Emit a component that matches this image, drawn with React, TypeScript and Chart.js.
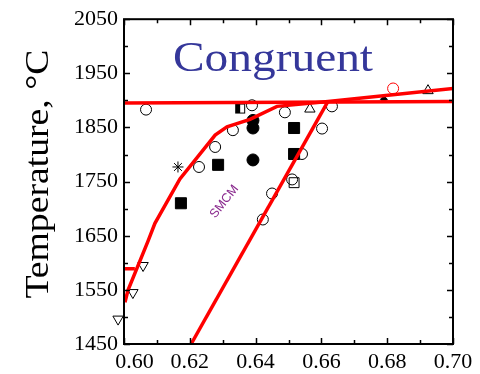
import React, { useEffect, useRef } from 'react';
import { Chart, registerables } from 'chart.js';

Chart.register(...registerables);

const X_MIN = 0.6;
const X_MAX = 0.7;
const Y_MIN = 1450;
const Y_MAX = 2050;

const xTickValues = [0.6, 0.62, 0.64, 0.66, 0.68, 0.7];
const xTickLabels = ['0.60', '0.62', '0.64', '0.66', '0.68', '0.70'];
const xMinorTicks = [0.61, 0.63, 0.65, 0.67, 0.69];
const yTickValues = [1450, 1550, 1650, 1750, 1850, 1950, 2050];
const yMinorTicks = [1500, 1600, 1700, 1800, 1900, 2000];

const yAxisTitle = 'Temperature, °C';
const regionLabel = 'Congruent';
const regionLabelPos = { x: 0.6149, y: 1954 };
const curveLabel = 'SMCM';
const curveLabelPos = { x: 0.6305, y: 1713 };

// red phase-boundary lines
const flatLine = [
  { x: 0.6, y: 1895 },
  { x: 0.7, y: 1898 },
];
const liquidus = [
  { x: 0.6003, y: 1527 },
  { x: 0.6012, y: 1549 },
  { x: 0.6073, y: 1640 },
  { x: 0.6094, y: 1673 },
  { x: 0.617, y: 1755 },
  { x: 0.6277, y: 1836 },
  { x: 0.6313, y: 1851 },
  { x: 0.6383, y: 1865 },
  { x: 0.6465, y: 1889 },
  { x: 0.662, y: 1898 },
  { x: 0.7, y: 1922 },
];
const shortLine = [
  { x: 0.6, y: 1589 },
  { x: 0.6033, y: 1589 },
];
const solidus = [
  { x: 0.6204, y: 1450 },
  { x: 0.662, y: 1898 },
];

// experimental markers
const openCircles = [
  { x: 0.6067, y: 1883 },
  { x: 0.6228, y: 1777 },
  { x: 0.6277, y: 1814 },
  { x: 0.6331, y: 1845 },
  { x: 0.6389, y: 1891 },
  { x: 0.6489, y: 1878 },
  { x: 0.6602, y: 1848 },
  { x: 0.6632, y: 1889 },
  { x: 0.6541, y: 1801 },
  { x: 0.6511, y: 1754 },
  { x: 0.645, y: 1728 },
  { x: 0.6422, y: 1680 },
];
const redCircles = [{ x: 0.6818, y: 1922 }];
const trianglesUp = [
  { x: 0.6565, y: 1884 },
  { x: 0.6924, y: 1918 },
];
const trianglesDown = [
  { x: 0.6058, y: 1595 },
  { x: 0.6027, y: 1545 },
  { x: 0.5982, y: 1496 },
];
const diamonds = [{ x: 0.679, y: 1902 }];
const filledSquares = [
  { x: 0.6173, y: 1710 },
  { x: 0.6286, y: 1781 },
  { x: 0.6517, y: 1849 },
  { x: 0.6517, y: 1801 },
];
const halfSquares = [{ x: 0.6353, y: 1885 }];
const openSquares = [{ x: 0.6517, y: 1748 }];
const filledCircles = [
  { x: 0.6392, y: 1863 },
  { x: 0.6392, y: 1849 },
  { x: 0.6392, y: 1790 },
];
const asterisks = [{ x: 0.6164, y: 1777 }];

const SERIF = '"Liberation Serif", "Times New Roman", Times, serif';
const SANS = '"Liberation Sans", Arial, Helvetica, sans-serif';

function makeHalfSquare(): HTMLCanvasElement {
  const c = document.createElement('canvas');
  c.width = 12;
  c.height = 12;
  const g = c.getContext('2d')!;
  g.fillStyle = '#000';
  g.fillRect(1, 1, 5, 10);
  g.strokeStyle = '#000';
  g.lineWidth = 1;
  g.strokeRect(1.5, 1.5, 9, 9);
  return c;
}

const decorPlugin = {
  id: 'decor',
  afterDraw(chart: any) {
    const { ctx, chartArea } = chart;
    const { left, right, top, bottom } = chartArea;
    const xs = chart.scales.x;
    const ys = chart.scales.y;
    ctx.save();
    ctx.strokeStyle = '#000';
    ctx.lineWidth = 1.5;
    ctx.beginPath();
    const major = 6;
    const minor = 4;
    xTickValues.forEach((v) => {
      const px = Math.round(xs.getPixelForValue(v)) + 0.5;
      ctx.moveTo(px, bottom);
      ctx.lineTo(px, bottom - major);
      ctx.moveTo(px, top);
      ctx.lineTo(px, top + major);
    });
    xMinorTicks.forEach((v) => {
      const px = Math.round(xs.getPixelForValue(v)) + 0.5;
      ctx.moveTo(px, bottom);
      ctx.lineTo(px, bottom - minor);
      ctx.moveTo(px, top);
      ctx.lineTo(px, top + minor);
    });
    yTickValues.forEach((v) => {
      const py = Math.round(ys.getPixelForValue(v)) + 0.5;
      ctx.moveTo(left, py);
      ctx.lineTo(left + major, py);
      ctx.moveTo(right, py);
      ctx.lineTo(right - major, py);
    });
    yMinorTicks.forEach((v) => {
      const py = Math.round(ys.getPixelForValue(v)) + 0.5;
      ctx.moveTo(left, py);
      ctx.lineTo(left + minor, py);
      ctx.moveTo(right, py);
      ctx.lineTo(right - minor, py);
    });
    ctx.stroke();

    ctx.lineWidth = 2;
    ctx.strokeRect(left, top, right - left, bottom - top);

    // x tick labels
    ctx.fillStyle = '#000';
    ctx.font = `22px ${SERIF}`;
    ctx.textAlign = 'center';
    ctx.textBaseline = 'alphabetic';
    xTickValues.forEach((v, i) => {
      const px = xs.getPixelForValue(v) + (i === 0 ? 10.5 : 0);
      ctx.fillText(xTickLabels[i], px, bottom + 24);
    });

    // y axis title
    ctx.save();
    ctx.font = `33px ${SERIF}`;
    const tw = ctx.measureText(yAxisTitle).width;
    ctx.translate(48, (top + bottom) / 2 - 7.5);
    ctx.rotate(-Math.PI / 2);
    ctx.scale(249 / tw, 1);
    ctx.textAlign = 'center';
    ctx.fillText(yAxisTitle, 0, 0);
    ctx.restore();

    // Congruent label
    ctx.save();
    ctx.font = `42px ${SERIF}`;
    ctx.fillStyle = '#35379a';
    const cw = ctx.measureText(regionLabel).width;
    ctx.translate(xs.getPixelForValue(regionLabelPos.x), ys.getPixelForValue(regionLabelPos.y));
    ctx.scale(200 / cw, 1);
    ctx.textAlign = 'left';
    ctx.fillText(regionLabel, 0, 0);
    ctx.restore();

    // SMCM label
    ctx.save();
    ctx.font = `12.5px ${SANS}`;
    ctx.fillStyle = '#8a2a8e';
    ctx.translate(xs.getPixelForValue(curveLabelPos.x), ys.getPixelForValue(curveLabelPos.y));
    ctx.rotate((-52 * Math.PI) / 180);
    ctx.textAlign = 'center';
    ctx.textBaseline = 'middle';
    ctx.fillText(curveLabel, 0, 0);
    ctx.restore();

    ctx.restore();
  },
};

export default function App() {
  const canvasRef = useRef<HTMLCanvasElement | null>(null);

  useEffect(() => {
    if (!canvasRef.current) return;
    const halfSq = makeHalfSquare();
    const lineDs = (data: any[]) => ({
      data,
      showLine: true,
      borderColor: '#ff0000',
      borderWidth: 3.5,
      pointRadius: 0,
      fill: false,
      tension: 0,
    });
    const markerDs = (data: any[], style: any, radius: number, fill: string, stroke = '#000', extra: any = {}) => ({
      data,
      showLine: false,
      pointStyle: style,
      pointRadius: radius,
      pointBackgroundColor: fill,
      pointBorderColor: stroke,
      pointBorderWidth: 1,
      clip: false,
      ...extra,
    });

    const chart = new Chart(canvasRef.current, {
      type: 'scatter',
      data: {
        datasets: [
          lineDs(flatLine),
          lineDs(liquidus),
          lineDs(shortLine),
          lineDs(solidus),
          markerDs(openCircles, 'circle', 5.5, 'rgba(0,0,0,0)'),
          markerDs(redCircles, 'circle', 5.5, 'rgba(0,0,0,0)', '#ff0000'),
          markerDs(trianglesUp, 'triangle', 6, 'rgba(0,0,0,0)'),
          markerDs(trianglesDown, 'triangle', 6, 'rgba(0,0,0,0)', '#000', { pointRotation: 180 }),
          markerDs(diamonds, 'rectRot', 3.5, '#000'),
          markerDs(filledSquares, 'rect', 7.8, '#000'),
          markerDs(halfSquares, halfSq, 6, '#000'),
          markerDs(openSquares, 'rect', 7, 'rgba(0,0,0,0)'),
          markerDs(filledCircles, 'circle', 6, '#000'),
          markerDs(asterisks, 'star', 5.5, '#000'),
        ] as any,
      },
      options: {
        animation: false,
        responsive: true,
        maintainAspectRatio: false,
        layout: { padding: { left: 0, right: 27, top: 16, bottom: 0 } },
        plugins: { legend: { display: false }, tooltip: { enabled: false } },
        scales: {
          x: {
            type: 'linear',
            min: X_MIN,
            max: X_MAX,
            grid: { display: false, drawTicks: false },
            border: { display: false },
            ticks: { display: false },
            afterFit: (scale: any) => {
              scale.height = 30;
            },
          },
          y: {
            type: 'linear',
            min: Y_MIN,
            max: Y_MAX,
            grid: { display: false, drawTicks: false },
            border: { display: false },
            ticks: {
              color: '#000',
              padding: 6,
              font: { family: SERIF, size: 22 },
              callback: (v: any) => String(v),
            },
            afterBuildTicks: (scale: any) => {
              scale.ticks = yTickValues.map((v) => ({ value: v }));
            },
            afterFit: (scale: any) => {
              scale.width = 124;
            },
          },
        },
      } as any,
      plugins: [decorPlugin],
    });
    return () => chart.destroy();
  }, []);

  return (
    <div style={{ position: 'absolute', left: 0, top: 0, width: 480, height: 374, background: '#fff' }}>
      <canvas ref={canvasRef} />
    </div>
  );
}
